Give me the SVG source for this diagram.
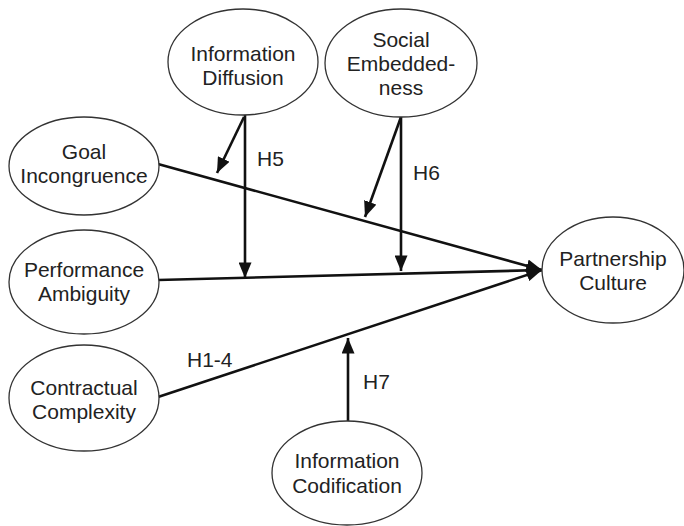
<svg xmlns="http://www.w3.org/2000/svg" width="684" height="526" viewBox="0 0 684 526">
  <style>
    .node ellipse { fill: #ffffff; stroke: #333333; stroke-width: 1.3; }
    .node text { font-family: "Liberation Sans", Arial, sans-serif; font-size: 21px; fill: #222222; text-anchor: middle; }
    .edge { stroke: #111111; stroke-width: 2.6; fill: none; marker-end: url(#arrow); }
    .plain { stroke: #111111; stroke-width: 2.6; fill: none; }
    .lbl { font-family: "Liberation Sans", Arial, sans-serif; font-size: 21px; fill: #222222; }
  </style>
  <defs>
    <marker id="arrow" viewBox="0 0 12 10" refX="12" refY="5" markerWidth="6" markerHeight="5" markerUnits="strokeWidth" orient="auto">
      <path d="M0,0 L12,5 L0,10 Z" fill="#111111"/>
    </marker>
  </defs>
  <rect width="684" height="526" fill="#ffffff"/>

  <g id="connectors">
    <!-- main effects into Partnership Culture -->
    <line class="edge" x1="158" y1="164" x2="542" y2="270"/>
    <line class="edge" x1="158" y1="280" x2="542" y2="270"/>
    <line class="edge" x1="158" y1="397" x2="542" y2="270"/>
    <!-- moderators -->
    <line class="edge" x1="245" y1="115" x2="245" y2="278"/>
    <line class="edge" x1="244" y1="117" x2="217" y2="173"/>
    <line class="edge" x1="401" y1="117" x2="401" y2="271"/>
    <line class="edge" x1="401" y1="117" x2="365" y2="217"/>
    <line class="edge" x1="348" y1="422" x2="348" y2="338"/>
  </g>

  <g id="labels">
    <text class="lbl" x="257" y="166">H5</text>
    <text class="lbl" x="413" y="180">H6</text>
    <text class="lbl" x="363" y="389">H7</text>
    <text class="lbl" x="187" y="367">H1-4</text>
  </g>

  <g id="info-diffusion" class="node">
    <ellipse cx="243" cy="62" rx="75" ry="53"/>
    <text x="243" y="61">Information</text>
    <text x="243" y="85">Diffusion</text>
  </g>
  <g id="social-embeddedness" class="node">
    <ellipse cx="401" cy="63" rx="76" ry="54"/>
    <text x="401" y="47">Social</text>
    <text x="401" y="71">Embedded-</text>
    <text x="401" y="95">ness</text>
  </g>
  <g id="goal-incongruence" class="node">
    <ellipse cx="84" cy="166" rx="75" ry="49"/>
    <text x="84" y="159">Goal</text>
    <text x="84" y="183">Incongruence</text>
  </g>
  <g id="performance-ambiguity" class="node">
    <ellipse cx="84" cy="282" rx="75" ry="52"/>
    <text x="84" y="277">Performance</text>
    <text x="84" y="301">Ambiguity</text>
  </g>
  <g id="contractual-complexity" class="node">
    <ellipse cx="84" cy="398" rx="75" ry="53"/>
    <text x="84" y="395">Contractual</text>
    <text x="84" y="419">Complexity</text>
  </g>
  <g id="partnership-culture" class="node">
    <ellipse cx="613" cy="270" rx="71" ry="53"/>
    <text x="613" y="266">Partnership</text>
    <text x="613" y="290">Culture</text>
  </g>
  <g id="info-codification" class="node">
    <ellipse cx="347" cy="473" rx="75" ry="52"/>
    <text x="347" y="468">Information</text>
    <text x="347" y="493">Codification</text>
  </g>
</svg>
